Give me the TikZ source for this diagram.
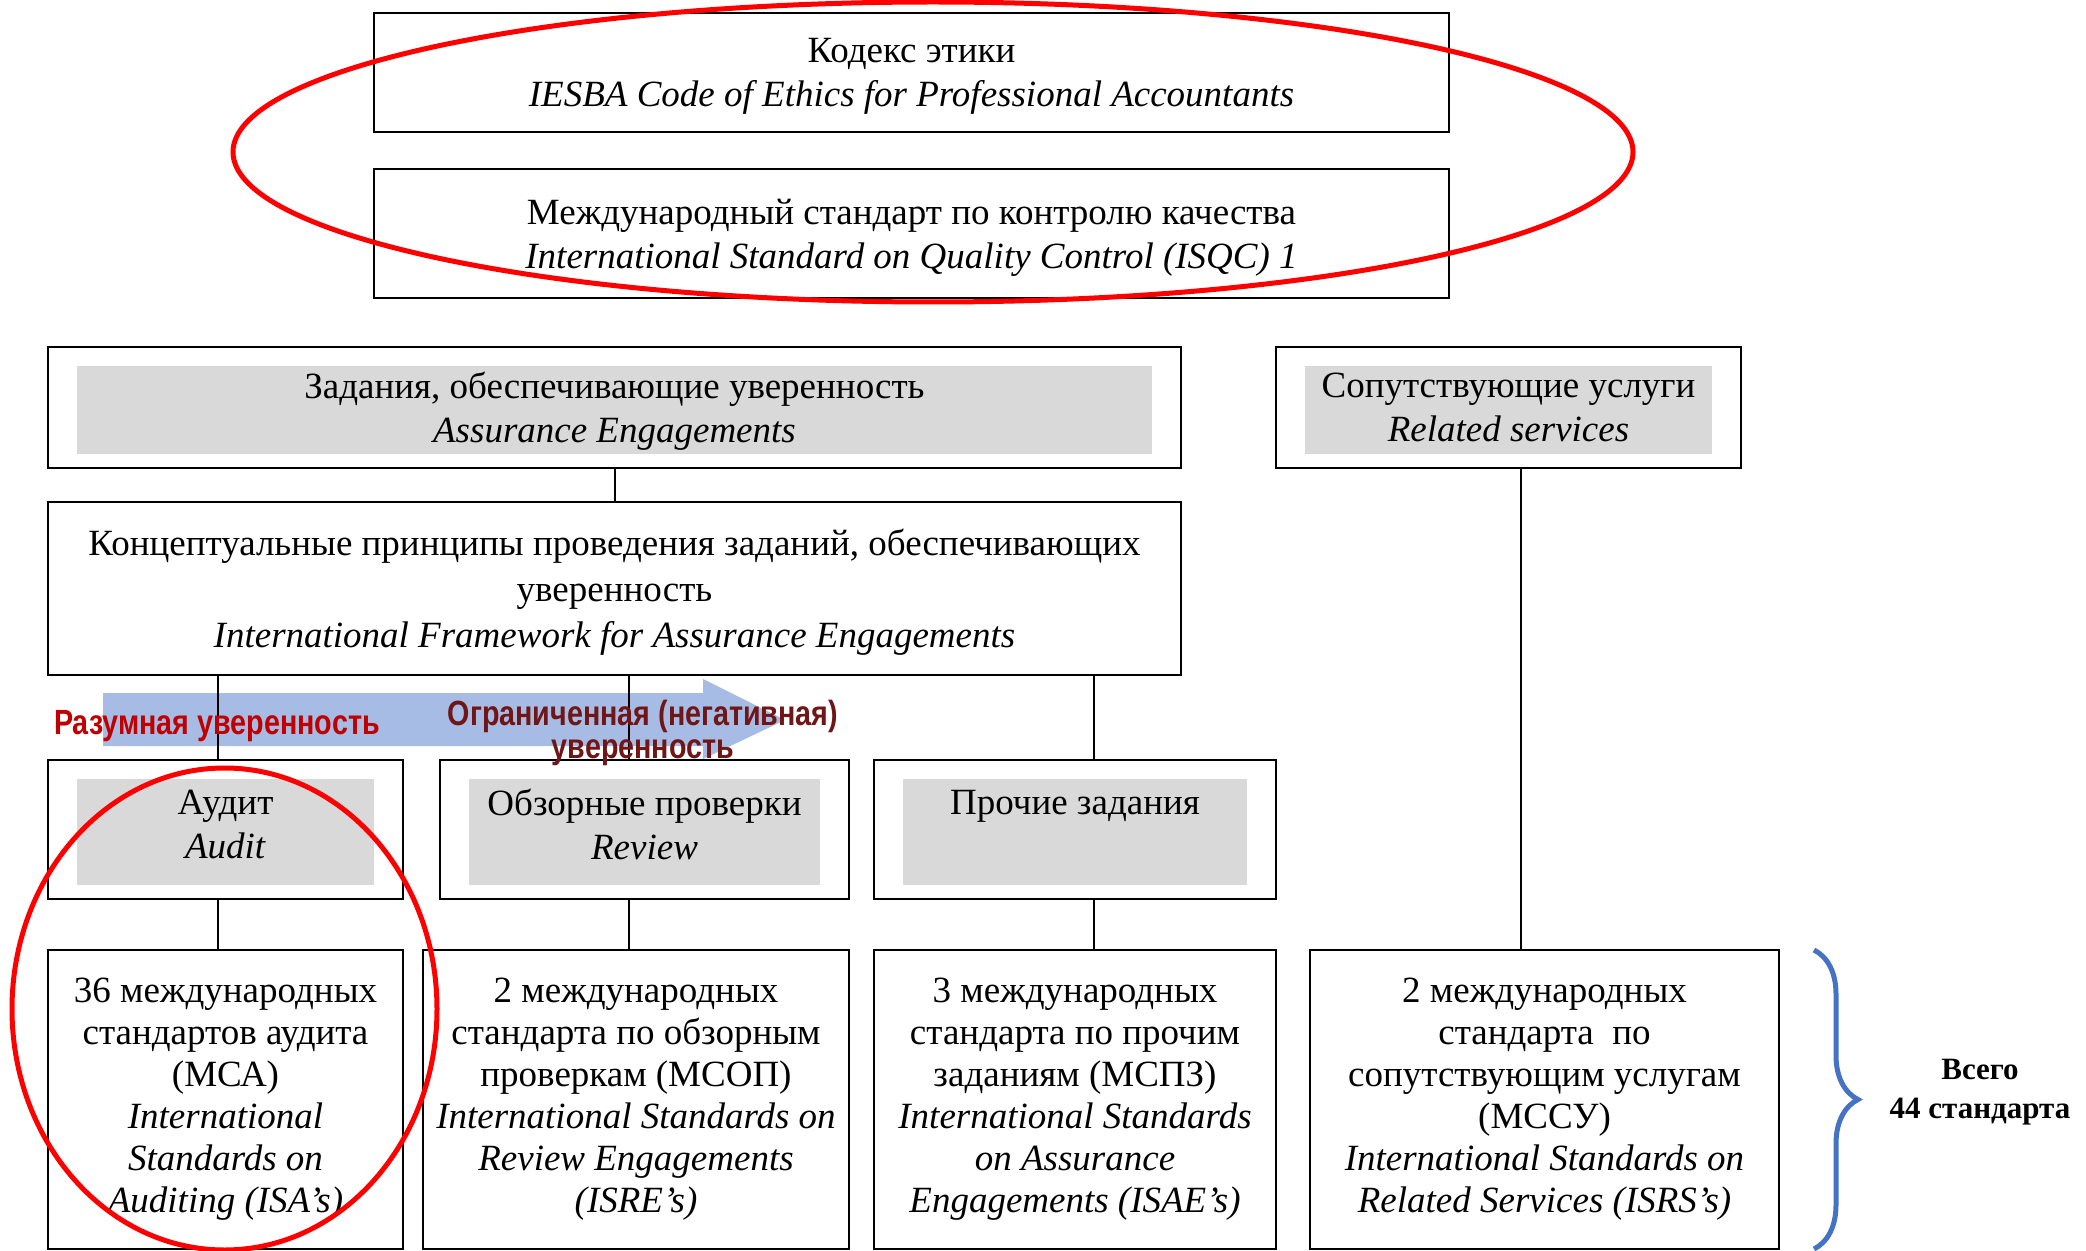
\documentclass[tikz,border=0pt]{standalone}
\usepackage{fontspec}
\setmainfont{Liberation Serif}
\newfontfamily\narrowfont[FakeStretch=0.82]{Liberation Sans}
\usetikzlibrary{positioning,decorations.pathreplacing}

\definecolor{graybg}{RGB}{217,217,217}
\definecolor{arrowblue}{RGB}{166,188,228}
\definecolor{reasonred}{RGB}{192,0,0}
\definecolor{limitred}{RGB}{112,22,22}
\definecolor{braceblue}{RGB}{68,114,196}

\tikzset{
  box/.style={draw, line width=1.2pt, align=center, inner sep=0pt, text depth=0pt,
    font=\fontsize{18.5}{22}\selectfont},
  shadedbox/.style={box, path picture={
    \fill[graybg] ([shift={(14.5pt,-9.5pt)}]path picture bounding box.north west)
      rectangle ([shift={(-14.5pt,7pt)}]path picture bounding box.south east);}},
  enggbox/.style={shadedbox, minimum height=69.5pt, text depth=5.5pt},
  stdbox/.style={box, minimum height=149.5pt, text depth=, font=\fontsize{18.5}{21}\selectfont},
  link/.style={line width=1pt},
  oval/.style={draw=red, line width=2.5pt},
  arrlabel/.style={font=\narrowfont\bfseries\fontsize{17.5}{16.5}\selectfont, align=center},
}

\begin{document}
\begin{tikzpicture}[x=0.5pt,y=-0.5pt]
  \useasboundingbox (0,0) rectangle (2086,1251);
  % Draw the blue arrow
  \fill[arrowblue] (103,693) -- (703,693) -- (703,679) -- (785,720)
    -- (703,759) -- (703,746) -- (103,746) -- cycle;
  % Draw ethics and quality control
  \node[box, minimum width=537.5pt, minimum height=59.5pt] (ethics) at (911.5,72.5)
    {Кодекс этики\\\textit{IESBA Code of Ethics for Professional Accountants}};
  \node[box, minimum width=537.5pt, minimum height=64.5pt] (isqc) at (911.5,233.5)
    {Международный стандарт по контролю качества\\\textit{International Standard on Quality Control (ISQC) 1}};
  % Draw engagements
  \node[shadedbox, minimum width=566.5pt, minimum height=60.5pt] (assur) at (614.5,407.5)
    {Задания, обеспечивающие уверенность\\\textit{Assurance Engagements}};
  \node[shadedbox, minimum width=232.5pt, minimum height=60.5pt] (related) at (1508.5,407.5)
    {Сопутствующие услуги\\\textit{Related services}};
  \node[box, minimum width=566.5pt, minimum height=86.5pt, font=\fontsize{18.5}{23}\selectfont] (frame) at (614.5,588.5)
    {Концептуальные принципы проведения заданий, обеспечивающих\\уверенность\\\textit{International Framework for Assurance Engagements}};
  \node[enggbox, minimum width=177.5pt] (audit) at (225.5,829.5)
    {Аудит\\\textit{Audit}};
  \node[enggbox, minimum width=204.5pt] (review) at (644.5,829.5)
    {Обзорные проверки\\\textit{Review}};
  \node[enggbox, minimum width=201pt] (other) at (1075,829.5)
    {Прочие задания\\~};
  % Draw the standards
  \node[stdbox, minimum width=177.5pt] (isa) at (225.5,1099.5)
    {36 международных\\стандартов аудита\\(МСА)\\\textit{International}\\\textit{Standards on}\\\textit{Auditing (ISA’s)}};
  \node[stdbox, minimum width=213pt] (isre) at (636,1099.5)
    {2 международных\\стандарта по обзорным\\проверкам (МСОП)\\\textit{International Standards on}\\\textit{Review Engagements}\\\textit{(ISRE’s)}};
  \node[stdbox, minimum width=201pt] (isae) at (1075,1099.5)
    {3 международных\\стандарта по прочим\\заданиям (МСПЗ)\\\textit{International Standards}\\\textit{on Assurance}\\\textit{Engagements (ISAE’s)}};
  \node[stdbox, minimum width=234.5pt] (isrs) at (1544.5,1099.5)
    {2 международных\\стандарта~~по\\сопутствующим услугам\\(МССУ)\\\textit{International Standards on}\\\textit{Related Services (ISRS’s)}};
  % Draw the links
  \draw[link] (assur) -- (frame);
  \draw[link] ([xshift=-3.75pt]audit.north) -- ([xshift=-3.75pt]audit.north |- frame.south);
  \draw[link] ([xshift=-7.75pt]review.north) -- ([xshift=-7.75pt]review.north |- frame.south);
  \draw[link] ([xshift=9.5pt]other.north) -- ([xshift=9.5pt]other.north |- frame.south);
  \draw[link] ([xshift=-3.75pt]audit.south) -- ([xshift=-3.75pt]audit.south |- isa.north);
  \draw[link] ([xshift=-3.5pt]isre.north) -- ([xshift=-3.5pt]isre.north |- review.south);
  \draw[link] ([xshift=9.5pt]other.south) -- ([xshift=9.5pt]other.south |- isae.north);
  \draw[link] ([xshift=-11.75pt]isrs.north) -- ([xshift=-11.75pt]isrs.north |- related.south);
  % Draw the assurance labels
  \node[arrlabel, text=reasonred] (reasonable) at (217,726) {Разумная уверенность};
  \node[arrlabel, text=limitred] (limited) at (643,733) {Ограниченная (негативная)\\уверенность};
  % Draw the ovals
  \draw[oval] (933,152) ellipse [x radius=350pt, y radius=75pt];
  \draw[oval] (224.5,1009) ellipse [x radius=106.25pt, y radius=120.5pt];
  % Draw the brace
  \draw[braceblue, line width=2.5pt, decorate, decoration={brace, amplitude=22pt}]
    (1814,950) -- (1814,1249);
  \node[font=\bfseries\fontsize{15.5}{19.5}\selectfont, align=center] (total) at (1980,1092)
    {Всего\\44 стандарта};
\end{tikzpicture}
\end{document}
